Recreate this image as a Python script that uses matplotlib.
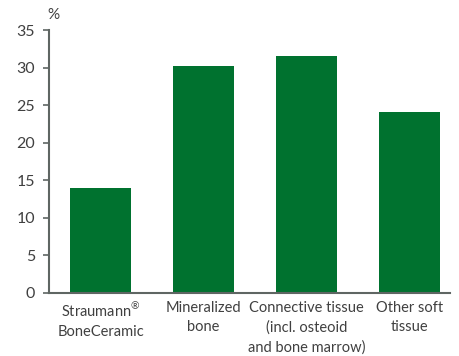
import matplotlib.pyplot as plt
import matplotlib.transforms as mtransforms
import numpy as np

categories = ['Straumann$^{®}$\nBoneCeramic', 'Mineralized\nbone',
              'Connective tissue\n(incl. osteoid\nand bone marrow)', 'Other soft\ntissue']
values = [14.0, 30.2, 31.6, 24.1]
yticks = [0, 5, 10, 15, 20, 25, 30, 35]

green = '#00722f'
axis_col = '#5f6663'
text_col = '#404040'

plt.rcParams['font.family'] = ['Lato', 'DejaVu Sans']
plt.rcParams['mathtext.fontset'] = 'custom'
plt.rcParams['mathtext.rm'] = 'Lato'

fig = plt.figure(figsize=(4.6, 3.56), dpi=100)
ax = fig.add_axes([49/460, 63/356, 401/460, 263/356])

x = np.arange(len(values))
ax.bar(x, values, width=0.59, color=green)

ax.set_xlim(-0.5, 3.39)
ax.set_ylim(0, 35)
ax.set_yticks(yticks)
ax.set_yticklabels([str(t) for t in yticks], fontsize=11.5, color=text_col)
ax.set_xticks(x)
ax.set_xticklabels(categories, fontsize=10.5, color=text_col, linespacing=1.45)

# the superscript makes the first label taller, nudge it back up
first = ax.get_xticklabels()[0]
first.set_transform(first.get_transform() +
                    mtransforms.ScaledTranslation(0, 3/72, fig.dpi_scale_trans))

ax.spines['right'].set_color('none')
ax.spines['top'].set_color('none')
ax.spines['left'].set_color(axis_col)
ax.spines['bottom'].set_color(axis_col)
ax.spines['left'].set_linewidth(1.5)
ax.spines['bottom'].set_linewidth(1.5)
ax.tick_params(axis='y', length=4, width=1.2, color=axis_col, pad=6)
ax.tick_params(axis='x', length=0, pad=6)

ax.text(-0.005, 1.03, '%', transform=ax.transAxes, fontsize=11, color=text_col,
        ha='left', va='bottom')

fig.savefig('out.png', dpi=100)
